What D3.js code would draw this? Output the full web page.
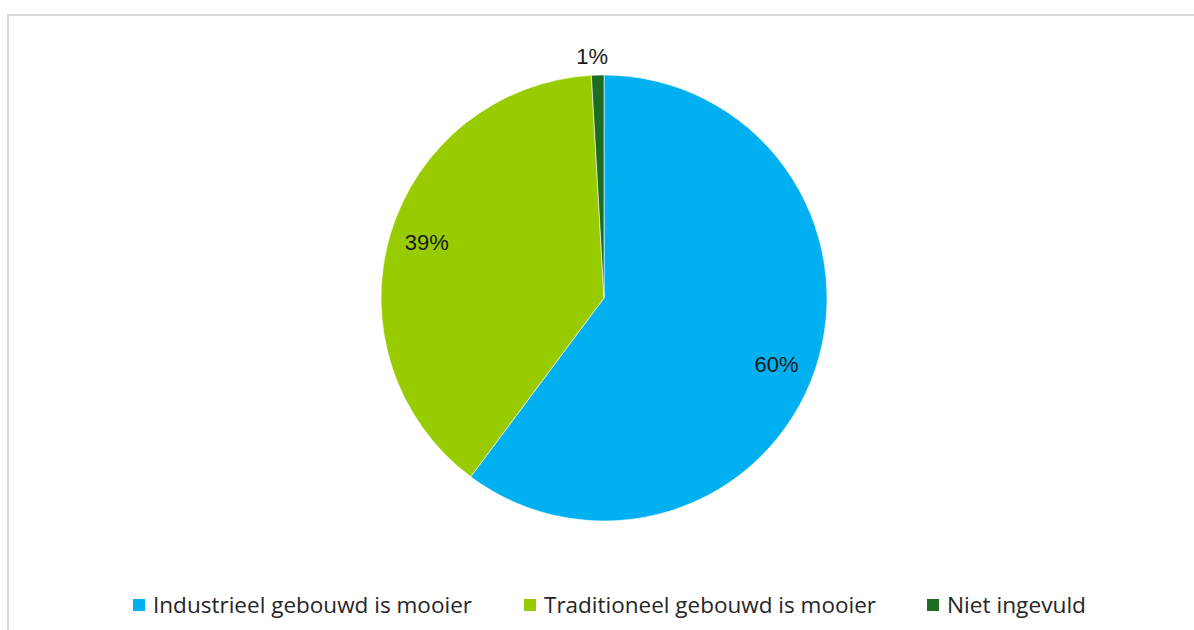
<!DOCTYPE html>
<html>
<head>
<meta charset="utf-8">
<script src="https://cdn.jsdelivr.net/npm/d3@7"></script>
<style>
  html, body { margin: 0; padding: 0; background: #fff; }
  svg { display: block; }
</style>
</head>
<body>
<svg id="chart" width="1194" height="630"></svg>
<script>
// Survey answers and their shares
const categories = ["Industrieel gebouwd is mooier", "Traditioneel gebouwd is mooier", "Niet ingevuld"];
const shares = [0.602, 0.389, 0.009];
const labels = ["60%", "39%", "1%"];
const colors = ["#00B0F0", "#99CC00", "#1E6B24"];

const svg = d3.select("#chart");
const W = 1194, H = 630;

// chart frame
svg.append("path")
  .attr("d", `M8,${H} L8,15 L${W},15`)
  .attr("fill", "none")
  .attr("stroke", "#d9d9d9")
  .attr("stroke-width", 2);

const cx = 604, cy = 298, r = 223;
const g = svg.append("g").attr("transform", `translate(${cx},${cy})`);

const data = categories.map((c, i) => ({ cat: c, value: shares[i], label: labels[i], color: colors[i] }));
const pie = d3.pie().sort(null).value(d => d.value);
const arcs = pie(data);

const arc = d3.arc().innerRadius(0).outerRadius(r);
g.selectAll("path.slice")
  .data(arcs)
  .join("path")
  .attr("class", "slice")
  .attr("d", arc)
  .attr("fill", d => d.data.color)
  .attr("stroke", "#fff")
  .attr("stroke-width", 0.6);

// data labels: inside for big slices, outside for the tiny one
const inner = d3.arc().innerRadius(r * 0.82).outerRadius(r * 0.82);
const outer = d3.arc().innerRadius(r + 19).outerRadius(r + 19);
const nudge = [[-1, 9], [-2, -3], [-5, 0]];
g.selectAll("text.lbl")
  .data(arcs)
  .join("text")
  .attr("class", "lbl")
  .attr("transform", (d, i) => {
    const small = d.data.value < 0.05;
    const [x, y] = (small ? outer : inner).centroid(d);
    return `translate(${x + nudge[i][0]},${y + nudge[i][1]})`;
  })
  .attr("text-anchor", "middle")
  .attr("dominant-baseline", "central")
  .attr("font-family", "'Liberation Sans', Arial, sans-serif")
  .attr("font-size", 22)
  .attr("fill", "#1a1a1a")
  .text(d => d.data.label);

// legend
const legendX = [133, 524, 927];
const legendW = [319, 332, 139];
const lg = svg.append("g");
data.forEach((d, i) => {
  lg.append("rect")
    .attr("x", legendX[i]).attr("y", 599)
    .attr("width", 12).attr("height", 12)
    .attr("fill", d.color);
  lg.append("text")
    .attr("x", legendX[i] + 20).attr("y", 613)
    .attr("font-family", "'Open Sans', 'Noto Sans', sans-serif")
    .attr("font-size", 21)
    .attr("fill", "#262626")
    .attr("textLength", legendW[i])
    .attr("lengthAdjust", "spacingAndGlyphs")
    .text(d.cat);
});
</script>
</body>
</html>
